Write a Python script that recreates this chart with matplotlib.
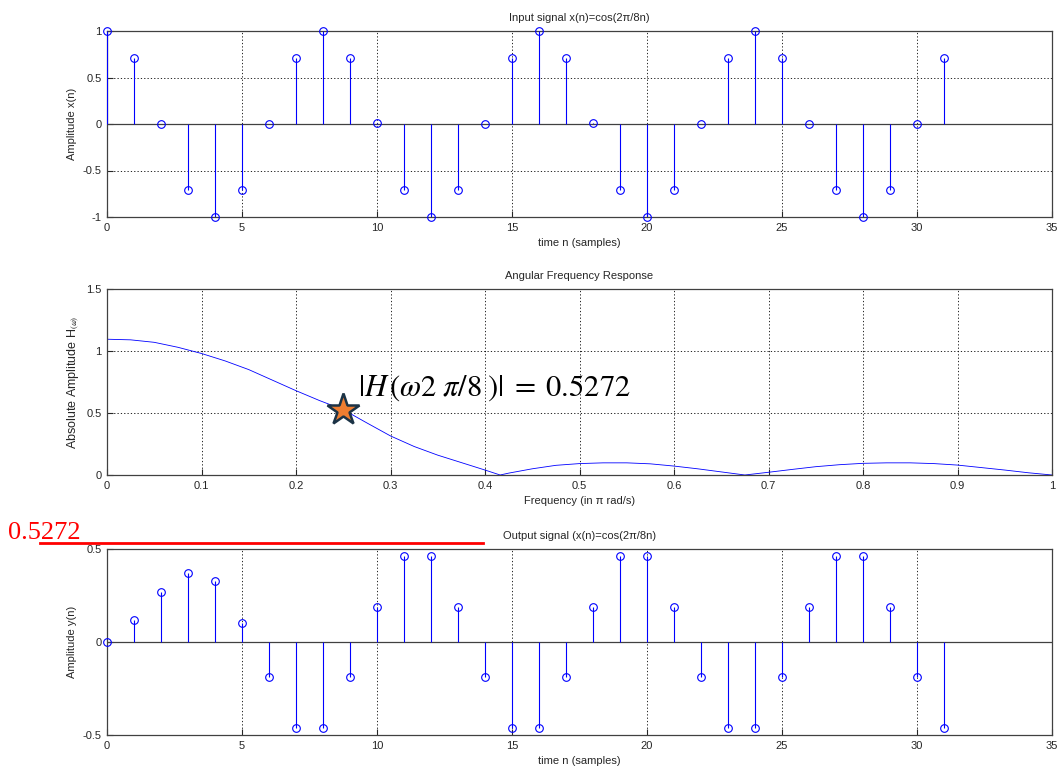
import matplotlib.pyplot as plt
import matplotlib.lines as mlines
import numpy as np

plt.rcParams['font.family'] = ['Liberation Sans', 'DejaVu Sans']
plt.rcParams['mathtext.fontset'] = 'stix'

# sample index and signals
n = list(range(32))
x_in = [1, 0.71, 0, -0.71, -1, -0.71, 0, 0.71, 1, 0.71, 0.01, -0.71, -1, -0.71, 0, 0.71,
        1, 0.71, 0.01, -0.71, -1, -0.71, 0, 0.71, 1, 0.71, 0, -0.71, -1, -0.71, 0, 0.71]
y_out = [0, 0.12, 0.27, 0.37, 0.33, 0.10, -0.19, -0.46, -0.46, -0.19, 0.19, 0.46, 0.46, 0.19,
         -0.19, -0.46, -0.46, -0.19, 0.19, 0.46, 0.46, 0.19, -0.19, -0.46, -0.46, -0.19,
         0.19, 0.46, 0.46, 0.19, -0.19, -0.46]

# frequency response |H(w)|, w in units of pi
w = [0, 0.025, 0.05, 0.075, 0.1, 0.125, 0.15, 0.175, 0.2, 0.225, 0.25, 0.275, 0.3, 0.325,
     0.35, 0.375, 0.4, 0.416, 0.425, 0.45, 0.475, 0.5, 0.525, 0.55, 0.575, 0.6, 0.625,
     0.65, 0.675, 0.7, 0.725, 0.75, 0.775, 0.8, 0.825, 0.85, 0.875, 0.9, 0.925, 0.95,
     0.975, 1.0]
H = [1.095, 1.09, 1.07, 1.03, 0.98, 0.92, 0.85, 0.765, 0.68, 0.60, 0.527, 0.42, 0.315, 0.23,
     0.16, 0.10, 0.04, 0.0, 0.015, 0.05, 0.078, 0.092, 0.098, 0.098, 0.09, 0.072, 0.05,
     0.025, 0.0, 0.022, 0.045, 0.067, 0.083, 0.094, 0.098, 0.098, 0.092, 0.08, 0.06, 0.04,
     0.018, 0.0]

w_mark = 0.25
H_mark = 0.5272

blue = '#0000ff'
txt = '#262626'
fs = 8

fig = plt.figure(figsize=(10.61, 7.69), dpi=100)
W, Hh = 1061, 769


def make_ax(top, bottom):
    return fig.add_axes([107 / W, (Hh - bottom) / Hh, 945 / W, (bottom - top) / Hh])


def style(ax):
    ax.grid(True, color='k', linestyle=(0, (1.5, 2.5)), linewidth=0.6)
    ax.tick_params(direction='in', labelsize=fs, colors=txt, length=4, width=0.8, pad=4)
    for s in ax.spines.values():
        s.set_color('#404040')
        s.set_linewidth(0.9)


def stem(ax, xs, ys):
    ax.axhline(0, color='#404040', lw=0.9, zorder=2)
    ax.vlines(xs, 0, ys, colors=blue, lw=0.8, zorder=3)
    ax.plot(xs, ys, 'o', mfc='none', mec=blue, ms=5.5, mew=0.8, zorder=4, clip_on=False)


ax1 = make_ax(31, 217)
stem(ax1, n, x_in)
ax1.set_xlim(0, 35)
ax1.set_ylim(-1, 1)
ax1.set_xticks(range(0, 36, 5))
ax1.set_yticks([-1, -0.5, 0, 0.5, 1])
ax1.set_yticklabels(['-1', '-0.5', '0', '0.5', '1'])
ax1.set_title('Input signal x(n)=cos(2π/8n)', fontsize=fs, color=txt, pad=7)
ax1.set_xlabel('time n (samples)', fontsize=fs, color=txt)
ax1.set_ylabel('Amplitude x(n)', fontsize=fs, color=txt)
style(ax1)

ax2 = make_ax(289, 475)
ax2.plot(w, H, color=blue, lw=0.6)
ax2.plot([w_mark], [H_mark], marker='*', ms=24, mfc='#ED7D31', mec='#1B3346', mew=1.8,
         zorder=5, clip_on=False)
ax2.text(0.266, 0.70, r'$|H\,(\omega 2\;\pi/8\;)|\;=\;0.5272$', fontsize=22, color='k',
         va='center', ha='left')
ax2.set_xlim(0, 1)
ax2.set_ylim(0, 1.5)
ax2.set_xticks(np.arange(0, 1.01, 0.1))
ax2.set_xticklabels(['0', '0.1', '0.2', '0.3', '0.4', '0.5', '0.6', '0.7', '0.8', '0.9', '1'])
ax2.set_yticks([0, 0.5, 1, 1.5])
ax2.set_yticklabels(['0', '0.5', '1', '1.5'])
ax2.set_title('Angular Frequency Response', fontsize=fs, color=txt, pad=7)
ax2.set_xlabel('Frequency (in π rad/s)', fontsize=fs, color=txt)
ax2.set_ylabel(r'Absolute Amplitude H$_{\mathsf{(\omega)}}$', fontsize=fs + 1, color=txt)
style(ax2)

ax3 = make_ax(549, 735)
stem(ax3, n, y_out)
ax3.set_xlim(0, 35)
ax3.set_ylim(-0.5, 0.5)
ax3.set_xticks(range(0, 36, 5))
ax3.set_yticks([-0.5, 0, 0.5])
ax3.set_yticklabels(['-0.5', '0', '0.5'])
ax3.set_title('Output signal (x(n)=cos(2π/8n)', fontsize=fs, color=txt, pad=7)
ax3.set_xlabel('time n (samples)', fontsize=fs, color=txt)
ax3.set_ylabel('Amplitude y(n)', fontsize=fs, color=txt)
style(ax3)

# red marker line for the gain value
fig.add_artist(mlines.Line2D([40 / W, 483 / W], [(Hh - 543) / Hh] * 2, color='#ff0000', lw=2))
fig.text(8 / W, (Hh - 539) / Hh, '0.5272', color='#ff0000', fontsize=19,
         family='Liberation Serif', ha='left', va='baseline')

fig.savefig('out.png', dpi=100)
